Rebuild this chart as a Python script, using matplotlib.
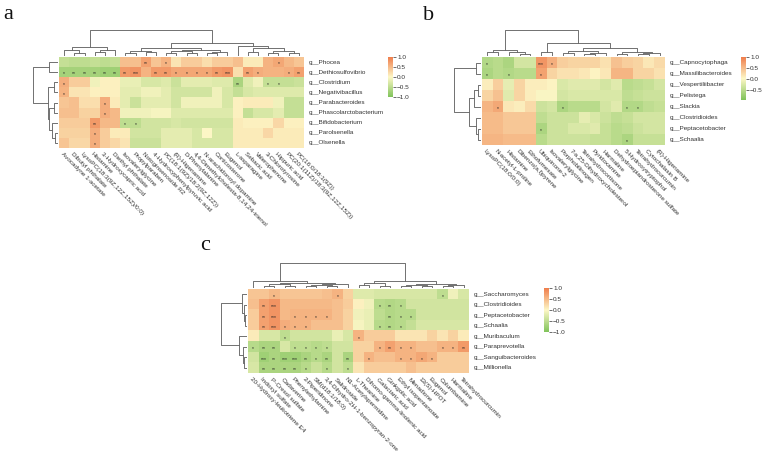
import numpy as np
import matplotlib
matplotlib.use("Agg")
import matplotlib.pyplot as plt
from matplotlib.colors import LinearSegmentedColormap

plt.rcParams['font.family'] = ['Liberation Sans', 'DejaVu Sans']

W, H = 767, 455

# ---------------- panel a ----------------
a_rows = ["g__Phocea", "g__Dethiosulfovibrio", "g__Clostridium", "g__Negativibacillus",
          "g__Parabacteroides", "g__Phascolarctobacterium", "g__Bifidobacterium",
          "g__Parolsenella", "g__Olsenella"]
a_cols = ["Avocadyne 1-acetate", "Dibutyl phthalate", "LysoPC(18:3(9Z,12Z,15Z)/0:0)", "Histamine",
          "3-Hydroxycapric acid", "Diethyl phthalate", "Isovalerylglycine", "Propylparaben",
          "Notoginsenoside R2", "4-Hydroxyphenylpyruvic acid", "PC(18:1(9Z)/18:2(9Z,12Z))",
          "(R)-Higenamine", "D-Phenylalanine", "4,4-Dimethylcholesta-8,14,24-trienol",
          "N-arachidonoyl dopamine", "Corticosterone", "Eugenol", "L-asparagine", "Sebacic acid",
          "Valerophenone", "3-Chlorotyrosine", "Hippuric acid", "PC(20:1(11Z)/18:3(9Z,12Z,15Z))",
          "PC(16:0/18:1(9Z))"]
a_vals = [
    [-0.45, -0.5, -0.5, -0.45, -0.5, -0.45, 0.45, 0.45, 0.7, 0.4, 0.55, 0.15, 0.35, 0.35, 0.2, 0.35, 0.35, 0.45, 0.1, 0.1, 0.55, 0.65, 0.5, 0.4],
    [-0.7, -0.7, -0.7, -0.7, -0.75, -0.75, 0.75, 0.8, 0.55, 0.75, 0.75, 0.65, 0.65, 0.65, 0.65, 0.75, 0.8, 0.2, 0.7, 0.6, 0.55, 0.55, 0.6, 0.7],
    [0.6, 0.35, 0.35, -0.1, 0.05, 0.05, -0.15, -0.15, -0.3, -0.3, -0.25, -0.4, -0.2, -0.2, -0.2, -0.25, -0.25, -0.65, -0.25, -0.1, -0.45, -0.45, -0.45, -0.4],
    [0.55, 0.15, 0.15, 0.05, 0.05, 0.05, -0.2, -0.2, -0.1, -0.1, -0.2, -0.35, -0.35, -0.35, -0.35, -0.1, -0.3, -0.45, -0.3, -0.25, -0.25, -0.25, -0.25, -0.25],
    [0.4, 0.45, 0.2, 0.2, 0.6, 0.1, -0.2, -0.4, -0.2, -0.2, -0.2, -0.35, -0.1, -0.1, -0.1, -0.1, -0.3, 0.05, 0.1, 0.1, 0.1, -0.1, -0.45, -0.45],
    [0.45, 0.45, 0.3, 0.3, 0.6, 0.5, -0.1, -0.1, -0.1, -0.05, -0.05, -0.25, -0.25, -0.25, -0.25, -0.25, -0.25, 0.05, -0.45, -0.3, -0.3, -0.2, -0.45, -0.45],
    [0.35, 0.35, 0.35, 0.75, 0.5, 0.5, -0.5, -0.5, -0.35, -0.35, -0.35, -0.3, -0.35, -0.35, -0.35, -0.35, -0.35, 0.1, 0.05, 0.05, 0.05, 0.25, 0.05, 0.05],
    [0.3, 0.3, 0.3, 0.6, 0.35, 0.1, 0.1, -0.35, -0.35, -0.35, -0.2, -0.2, -0.2, -0.3, 0.0, -0.3, -0.3, 0.1, 0.1, 0.1, 0.25, 0.1, 0.1, 0.1],
    [0.4, 0.25, 0.25, 0.6, 0.35, 0.25, 0.15, -0.4, -0.4, -0.4, -0.2, -0.2, -0.2, -0.3, -0.3, -0.3, -0.3, 0.1, 0.1, 0.1, 0.1, 0.1, 0.1, 0.1],
]
# significance marks: (row, col, text)
a_sig = [(0, 8, "**"), (0, 10, "*"), (0, 21, "*"),
         (1, 0, "*"), (1, 1, "**"), (1, 2, "**"), (1, 3, "**"), (1, 4, "**"), (1, 5, "**"),
         (1, 6, "**"), (1, 7, "***"), (1, 9, "**"), (1, 10, "**"), (1, 11, "*"), (1, 12, "*"),
         (1, 13, "*"), (1, 14, "*"), (1, 15, "**"), (1, 16, "***"), (1, 18, "**"), (1, 19, "*"),
         (1, 22, "*"), (1, 23, "**"),
         (2, 0, "*"), (2, 17, "**"), (2, 20, "*"), (2, 21, "*"),
         (3, 0, "*"), (4, 4, "*"), (5, 4, "*"),
         (6, 3, "**"), (6, 6, "*"), (6, 7, "*"), (7, 3, "*"), (8, 3, "*")]
# linkage tables (left child, right child, height), leaves in display order
a_col_links = [(1, 2, 0.12), (0, 24, 0.22), (3, 4, 0.15), (26, 5, 0.22), (25, 27, 0.36),
               (6, 7, 0.12), (8, 9, 0.15), (29, 30, 0.2), (10, 11, 0.1), (12, 13, 0.12),
               (32, 33, 0.18), (14, 15, 0.1), (35, 16, 0.16), (34, 36, 0.24), (31, 37, 0.33),
               (18, 19, 0.14), (20, 21, 0.1), (22, 23, 0.12), (40, 41, 0.2), (39, 42, 0.3),
               (17, 43, 0.4), (38, 44, 0.5), (28, 45, 1.0)]
a_row_links = [(2, 3, 0.15), (4, 5, 0.15), (7, 8, 0.12), (6, 11, 0.25), (10, 12, 0.35),
               (9, 13, 0.42), (0, 1, 0.35), (15, 14, 1.0)]

# ---------------- panel b ----------------
b_rows = ["g__Capnocytophaga", "g__Massilibacteroides", "g__Vespertiliibacter", "g__Pelistega",
          "g__Slackia", "g__Clostridioides", "g__Peptacetobacter", "g__Schaalia"]
b_cols = ["LysoPC(18:0/0:0)", "N-acetyl-L-proline", "Histamine", "Dibenzo(a,l)pyrene",
          "Ethofumesate", "Ubiquinone-2", "Isovalerylglycine", "Porphobilinogen",
          "7-a,25-Dihydroxycholesterol", "Tetrahydrocortisone", "Pyridoxamine", "Harmaline",
          "Dehydroepiandrosterone sulfate", "5-Hydroxytryptophol", "Tetrahydrocurcumin",
          "Cytochalasin B", "(R)-Higenamine"]
b_vals = [
    [-0.55, -0.5, -0.6, -0.3, -0.3, 0.8, 0.6, 0.35, 0.3, 0.3, 0.3, 0.2, 0.45, 0.35, 0.3, 0.15, 0.25],
    [-0.6, -0.5, -0.55, -0.5, -0.5, 0.7, 0.3, 0.2, 0.2, 0.15, 0.05, 0.15, 0.55, 0.55, 0.3, 0.3, 0.2],
    [0.1, 0.35, -0.15, 0.3, 0.1, 0.1, 0.05, -0.25, -0.2, -0.2, -0.2, -0.3, -0.2, -0.5, -0.45, -0.4, -0.3],
    [0.3, 0.45, -0.2, 0.3, 0.1, 0.0, 0.0, -0.3, -0.25, -0.25, -0.25, -0.25, -0.25, -0.45, -0.4, -0.35, -0.35],
    [0.55, 0.65, 0.15, 0.1, 0.25, -0.35, -0.3, -0.6, -0.5, -0.5, -0.5, -0.3, -0.2, -0.55, -0.55, -0.45, -0.4],
    [0.5, 0.5, 0.4, 0.4, 0.4, -0.45, -0.35, -0.35, -0.35, -0.15, -0.25, -0.35, -0.45, -0.4, -0.3, -0.3, -0.3],
    [0.5, 0.5, 0.4, 0.4, 0.4, -0.6, -0.35, -0.35, -0.25, -0.25, -0.2, -0.4, -0.5, -0.45, -0.35, -0.3, -0.3],
    [0.55, 0.55, 0.5, 0.5, 0.5, -0.5, -0.35, -0.35, -0.35, -0.35, -0.4, -0.4, -0.5, -0.6, -0.4, -0.4, -0.4],
]
b_sig = [(0, 0, "*"), (0, 5, "***"), (0, 6, "*"), (1, 0, "*"), (1, 2, "*"), (1, 5, "*"),
         (4, 1, "*"), (4, 7, "*"), (4, 13, "*"), (4, 14, "*"), (6, 5, "*"), (7, 13, "*")]
b_col_links = [(0, 1, 0.15), (3, 4, 0.08), (2, 18, 0.15), (17, 19, 0.25), (5, 6, 0.15),
               (7, 8, 0.1), (9, 10, 0.08), (23, 11, 0.12), (22, 24, 0.18), (12, 13, 0.08),
               (14, 15, 0.06), (27, 16, 0.1), (26, 28, 0.16), (25, 29, 0.3), (21, 30, 0.5),
               (20, 31, 1.0)]
b_row_links = [(0, 1, 0.18), (2, 3, 0.12), (9, 4, 0.25), (6, 7, 0.1), (5, 11, 0.2),
               (10, 12, 0.45), (8, 13, 1.0)]

# ---------------- panel c ----------------
c_rows = ["g__Saccharomyces", "g__Clostridioides", "g__Peptacetobacter", "g__Schaalia",
          "g__Muribaculum", "g__Paraprevotella", "g__Sanguibacteroides", "g__Millionella"]
c_cols = ["20-Hydroxy-leukotriene E4", "Indoxyl sulfate", "P-Cresol sulfate", "Cadaverine",
          "Phenylethylamine", "2-Piperidinone", "SM(d18:1/18:0)",
          "3,4-Dihydro-2H-1-benzopyran-2-one", "Salidroside", "N1-Acetylspermidine",
          "L-Theanine", "Dihomo-gamma-linolenic acid", "Galactaric acid", "Ginkgolic acid",
          "Ethyl isopentanoate", "Menadione", "13(S)-HPOT", "Eugenol", "Columbamine",
          "Harmaline", "Tetrahydrocurcumin"]
c_vals = [
    [0.4, 0.4, 0.5, 0.4, 0.4, 0.4, 0.4, 0.45, 0.55, 0.3, -0.25, -0.25, -0.3, -0.3, -0.3, -0.3, -0.3, -0.3, -0.5, -0.1, -0.3],
    [0.45, 0.7, 0.8, 0.5, 0.5, 0.5, 0.5, 0.5, 0.45, 0.35, 0.05, -0.1, -0.55, -0.6, -0.55, -0.35, -0.35, -0.35, -0.35, -0.35, -0.35],
    [0.35, 0.7, 0.8, 0.5, 0.55, 0.55, 0.55, 0.55, 0.45, 0.3, -0.1, -0.15, -0.5, -0.6, -0.55, -0.55, -0.35, -0.35, -0.35, -0.35, -0.35],
    [0.35, 0.7, 0.8, 0.6, 0.55, 0.55, 0.45, 0.45, 0.45, 0.3, -0.05, -0.15, -0.55, -0.6, -0.55, -0.45, -0.3, -0.3, -0.3, -0.3, -0.3],
    [0.1, -0.3, -0.3, -0.5, -0.35, -0.35, -0.35, -0.35, -0.15, -0.3, 0.55, 0.35, 0.35, 0.35, 0.15, 0.15, 0.15, 0.3, 0.15, 0.3, 0.1],
    [-0.55, -0.65, -0.65, -0.3, -0.5, -0.5, -0.55, -0.5, -0.35, -0.35, 0.3, 0.3, 0.55, 0.7, 0.55, 0.55, 0.45, 0.45, 0.55, 0.55, 0.75],
    [-0.35, -0.75, -0.65, -0.75, -0.75, -0.65, -0.55, -0.65, -0.35, -0.65, 0.3, 0.55, 0.45, 0.45, 0.55, 0.55, 0.65, 0.55, 0.35, 0.35, 0.35],
    [-0.3, -0.65, -0.65, -0.65, -0.65, -0.55, -0.4, -0.55, -0.35, -0.5, 0.15, 0.35, 0.35, 0.35, 0.35, 0.45, 0.35, 0.35, 0.35, 0.35, 0.35],
]
c_sig = [(0, 2, "*"), (0, 8, "*"), (0, 18, "*"),
         (1, 1, "**"), (1, 2, "***"), (1, 12, "*"), (1, 13, "**"), (1, 14, "*"),
         (2, 1, "**"), (2, 2, "***"), (2, 4, "*"), (2, 5, "*"), (2, 6, "*"), (2, 7, "*"),
         (2, 13, "**"), (2, 14, "*"), (2, 15, "*"),
         (3, 1, "**"), (3, 2, "***"), (3, 3, "*"), (3, 4, "*"), (3, 5, "*"),
         (3, 12, "*"), (3, 13, "**"), (3, 14, "*"),
         (4, 3, "*"), (4, 10, "*"),
         (5, 0, "*"), (5, 1, "**"), (5, 2, "**"), (5, 4, "*"), (5, 5, "*"), (5, 6, "*"), (5, 7, "*"),
         (5, 12, "*"), (5, 13, "**"), (5, 14, "*"), (5, 15, "*"), (5, 18, "*"), (5, 19, "*"), (5, 20, "**"),
         (6, 1, "***"), (6, 2, "**"), (6, 3, "***"), (6, 4, "***"), (6, 5, "**"), (6, 6, "*"),
         (6, 7, "**"), (6, 9, "**"), (6, 11, "*"), (6, 14, "*"), (6, 15, "*"), (6, 16, "*"), (6, 17, "*"),
         (7, 1, "**"), (7, 2, "**"), (7, 3, "**"), (7, 4, "**"), (7, 5, "*"), (7, 7, "*"), (7, 9, "*")]
c_col_links = [(1, 2, 0.08), (3, 4, 0.1), (21, 22, 0.15), (5, 6, 0.08), (7, 8, 0.1),
               (24, 25, 0.14), (26, 9, 0.18), (23, 27, 0.22), (0, 28, 0.28),
               (10, 11, 0.12), (12, 13, 0.1), (30, 31, 0.2), (14, 15, 0.1), (16, 17, 0.08),
               (33, 34, 0.14), (18, 19, 0.1), (36, 20, 0.13), (35, 37, 0.18), (32, 38, 0.3),
               (29, 39, 1.0)]
c_row_links = [(2, 3, 0.08), (1, 8, 0.12), (0, 9, 0.18), (6, 7, 0.1), (5, 11, 0.16),
               (4, 12, 0.32), (10, 13, 1.0)]

cmap = LinearSegmentedColormap.from_list("gyo", ["#80C35A", "#FDF7C6", "#EF7D4B"])
TXT = "#333333"
LINE = "#5a5a5a"

fig = plt.figure(figsize=(W / 100, H / 100), dpi=100)


def box(x0, y0, x1, y1):
    return [x0 / W, 1 - y1 / H, (x1 - x0) / W, (y1 - y0) / H]


def dendro(ax, links, n, side):
    pos = {i: i + 0.5 for i in range(n)}
    hgt = {i: 0.0 for i in range(n)}
    for k, (l, r, h) in enumerate(links):
        xs = [pos[l], pos[l], pos[r], pos[r]]
        ys = [hgt[l], h, h, hgt[r]]
        if side == "top":
            ax.plot(xs, ys, color=LINE, lw=0.6, solid_capstyle="butt")
        else:
            ax.plot(ys, xs, color=LINE, lw=0.6, solid_capstyle="butt")
        pos[n + k] = (pos[l] + pos[r]) / 2
        hgt[n + k] = h
    if side == "top":
        ax.set_xlim(0, n)
        ax.set_ylim(0, 1.01)
    else:
        ax.set_ylim(n, 0)
        ax.set_xlim(1.01, 0)
    ax.axis("off")


def panel(vals, sig, rows, cols, clinks, rlinks, hm, ctop, rleft, cb, vmin, vmax, ticks):
    data = np.array(vals)
    nr, nc = data.shape
    x0, y0, x1, y1 = hm
    ax = fig.add_axes(box(x0, y0, x1, y1))
    im = ax.imshow(data, cmap=cmap, vmin=vmin, vmax=vmax, aspect="auto", interpolation="nearest")
    ax.set_xticks([])
    ax.set_yticks([])
    for s in ax.spines.values():
        s.set_visible(False)
    for r, c, t in sig:
        ax.text(c, r + 0.18, t, ha="center", va="center", fontsize=3.6, color="#222222")
    for i, name in enumerate(rows):
        ax.text(nc - 0.5 + 0.45, i, name, ha="left", va="center", fontsize=4.6, color=TXT)
    for j, name in enumerate(cols):
        ax.text(j - 0.1, nr - 0.5 + 0.35, name, rotation=-45, rotation_mode="anchor",
                ha="left", va="top", fontsize=4.6, color=TXT)
    dc = fig.add_axes(box(x0, ctop, x1, y0 - 1))
    dendro(dc, clinks, nc, "top")
    dr = fig.add_axes(box(rleft, y0, x0 - 1, y1))
    dendro(dr, rlinks, nr, "left")
    cax = fig.add_axes(box(*cb))
    bar = fig.colorbar(im, cax=cax, ticks=ticks)
    bar.outline.set_visible(False)
    cax.tick_params(length=2, width=0.5, labelsize=4.6, colors=TXT, pad=1)
    bar.ax.set_yticklabels([f"{t:.1f}".replace("-", "\u2212") for t in ticks])


panel(a_vals, a_sig, a_rows, a_cols, a_col_links, a_row_links,
      (59, 57, 304, 148), 30, 33, (388, 57, 393, 97), -1.0, 1.0, [1.0, 0.5, 0.0, -0.5, -1.0])
panel(b_vals, b_sig, b_rows, b_cols, b_col_links, b_row_links,
      (482, 57, 665, 145), 30, 454, (741, 57, 746, 100), -0.95, 1.0, [1.0, 0.5, 0.0, -0.5])
panel(c_vals, c_sig, c_rows, c_cols, c_col_links, c_row_links,
      (248, 289, 469, 373), 263, 221, (544, 288, 549, 332), -1.0, 1.0, [1.0, 0.5, 0.0, -0.5, -1.0])

for lab, x, y in [("a", 3, 19), ("b", 423, 20), ("c", 200, 250)]:
    fig.text(x / W, 1 - y / H, lab, fontsize=16, family="Liberation Serif", color="#111111",
             ha="left", va="baseline")

fig.savefig("out.png", dpi=100)
